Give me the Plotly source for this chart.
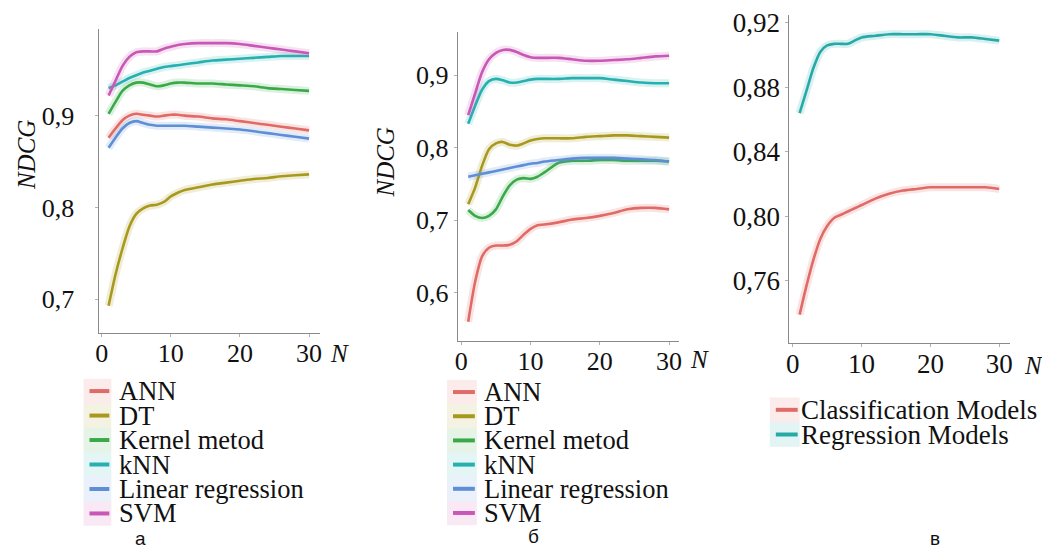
import plotly.graph_objects as go

# page offset: the browser body has an 8px margin
OFF = 8
W, H = 1050 - OFF, 549 - OFF

# ---------------- data ----------------
N_AB = [1, 2, 3, 4, 5, 6, 7, 8, 9, 10, 11, 12, 14, 16, 18, 20, 22, 24, 26, 28, 30]

names_ab = ["ANN", "DT", "Kernel metod", "kNN", "Linear regression", "SVM"]
colors_ab = ["#E06A66", "#A8991E", "#3AAA48", "#26B0B0", "#5E8FD6", "#C957B5"]

# panel а
a_ann = [0.876, 0.886, 0.895, 0.900, 0.902, 0.901, 0.900, 0.899, 0.900, 0.901, 0.901, 0.900, 0.899, 0.897, 0.896, 0.894, 0.892, 0.890, 0.888, 0.886, 0.884]
a_dt = [0.693, 0.727, 0.755, 0.779, 0.793, 0.799, 0.802, 0.803, 0.806, 0.812, 0.816, 0.819, 0.822, 0.825, 0.827, 0.829, 0.831, 0.832, 0.834, 0.835, 0.836]
a_kernel = [0.902, 0.915, 0.927, 0.933, 0.936, 0.936, 0.934, 0.932, 0.933, 0.935, 0.936, 0.936, 0.935, 0.935, 0.934, 0.933, 0.932, 0.930, 0.929, 0.928, 0.927]
a_knn = [0.930, 0.933, 0.937, 0.941, 0.944, 0.947, 0.949, 0.951, 0.953, 0.954, 0.955, 0.956, 0.958, 0.960, 0.961, 0.962, 0.963, 0.964, 0.965, 0.965, 0.965]
a_linear = [0.865, 0.876, 0.886, 0.892, 0.894, 0.892, 0.890, 0.889, 0.889, 0.889, 0.889, 0.889, 0.888, 0.887, 0.886, 0.885, 0.883, 0.881, 0.879, 0.877, 0.875]
a_svm = [0.922, 0.938, 0.954, 0.964, 0.969, 0.970, 0.970, 0.970, 0.973, 0.975, 0.977, 0.978, 0.979, 0.979, 0.979, 0.978, 0.976, 0.974, 0.972, 0.970, 0.968]

# panel б
b_ann = [0.560, 0.615, 0.650, 0.662, 0.665, 0.665, 0.666, 0.671, 0.680, 0.688, 0.693, 0.694, 0.697, 0.701, 0.703, 0.706, 0.710, 0.715, 0.717, 0.717, 0.715]
b_dt = [0.722, 0.745, 0.775, 0.798, 0.806, 0.808, 0.804, 0.803, 0.806, 0.810, 0.812, 0.813, 0.813, 0.813, 0.815, 0.816, 0.817, 0.817, 0.816, 0.815, 0.814]
b_kernel = [0.714, 0.706, 0.703, 0.706, 0.715, 0.733, 0.748, 0.756, 0.758, 0.757, 0.760, 0.766, 0.779, 0.782, 0.782, 0.783, 0.783, 0.782, 0.782, 0.782, 0.781]
b_knn = [0.833, 0.858, 0.880, 0.892, 0.895, 0.893, 0.890, 0.890, 0.892, 0.894, 0.895, 0.895, 0.895, 0.896, 0.896, 0.896, 0.894, 0.892, 0.890, 0.889, 0.889]
b_linear = [0.760, 0.762, 0.764, 0.766, 0.768, 0.770, 0.772, 0.774, 0.776, 0.778, 0.779, 0.781, 0.783, 0.785, 0.786, 0.786, 0.786, 0.785, 0.784, 0.783, 0.781]
b_svm = [0.845, 0.875, 0.904, 0.922, 0.931, 0.935, 0.935, 0.932, 0.928, 0.925, 0.924, 0.924, 0.924, 0.922, 0.920, 0.920, 0.921, 0.922, 0.924, 0.926, 0.927]

# panel в
N_C = [1, 2, 3, 4, 5, 6, 7, 8, 9, 10, 12, 14, 16, 18, 20, 22, 24, 26, 28, 30]
names_c = ["Classification Models", "Regression Models"]
colors_c = ["#E06A66", "#27AAA7"]
c_class = [0.739, 0.757, 0.773, 0.786, 0.794, 0.799, 0.801, 0.803, 0.805, 0.807, 0.811, 0.814, 0.816, 0.817, 0.818, 0.818, 0.818, 0.818, 0.818, 0.817]
c_reg = [0.864, 0.878, 0.892, 0.902, 0.906, 0.907, 0.907, 0.907, 0.909, 0.911, 0.912, 0.913, 0.913, 0.913, 0.913, 0.912, 0.911, 0.911, 0.910, 0.909]

x_ticks = [0, 10, 20, 30]
y_ticks_a = [0.7, 0.8, 0.9]
y_ticks_b = [0.6, 0.7, 0.8, 0.9]
y_ticks_c = [0.76, 0.80, 0.84, 0.88, 0.92]
captions = ["а", "б", "в"]
y_title = "NDCG"
x_title = "N"

series_a = [a_ann, a_dt, a_kernel, a_knn, a_linear, a_svm]
series_b = [b_ann, b_dt, b_kernel, b_knn, b_linear, b_svm]
series_c = [c_class, c_reg]

SERIF = "Liberation Serif"
SANS = "Liberation Sans"


def rgba(hexc, a):
    h = hexc.lstrip("#")
    r, g, b = int(h[0:2], 16), int(h[2:4], 16), int(h[4:6], 16)
    return f"rgba({r},{g},{b},{a})"


def px_x(x):
    return min(1.0, max(0.0, (x - OFF) / W))


def px_y(y):
    return min(1.0, max(0.0, 1 - (y - OFF) / H))


fig = go.Figure()


def add_series(xs, ys, color, name, xa, ya):
    # soft band
    fig.add_trace(go.Scatter(x=xs, y=ys, mode="lines", xaxis=xa, yaxis=ya,
                             line=dict(color=rgba(color, 0.18), width=8, shape="spline", smoothing=0.7),
                             showlegend=False, hoverinfo="skip"))
    fig.add_trace(go.Scatter(x=xs, y=ys, mode="lines", xaxis=xa, yaxis=ya, name=name,
                             line=dict(color=color, width=2.6, shape="spline", smoothing=0.7),
                             showlegend=False))


for ys, c, n in zip(series_a, colors_ab, names_ab):
    add_series(N_AB, ys, c, n, "x", "y")
for ys, c, n in zip(series_b, colors_ab, names_ab):
    add_series(N_AB, ys, c, n, "x2", "y2")
for ys, c, n in zip(series_c, colors_c, names_c):
    add_series(N_C, ys, c, n, "x3", "y3")

axis_common = dict(showgrid=False, zeroline=False, showline=True, linecolor="#8a8a8a", linewidth=1,
                   ticks="outside", ticklen=3, tickcolor="#b0b0b0", ticklabeloverflow="allow")

panels = [
    # (x domain px, y domain px (top,bottom), xrange, yrange, yticks, fmt, standoff, font size)
    ((96, 318), (22, 330), [-0.33, 31.57], [0.6634, 0.9946], y_ticks_a, ".1f", 16, 26),
    ((456.7, 680), (25, 338), [-0.52, 31.5], [0.5337, 0.960], y_ticks_b, ".1f", 0, 26),
    ((790.7, 1013), (8, 340), [-0.48, 31.6], [0.7216, 0.9249], y_ticks_c, ".2f", 0, 27),
]

layout_axes = {}
for i, (xd, yd, xr, yr, yt, fmt, so, fs) in enumerate(panels):
    sfx = "" if i == 0 else str(i + 1)
    tf = dict(family=SERIF, size=fs, color="#111")
    layout_axes["xaxis" + sfx] = dict(axis_common, domain=[px_x(xd[0]), px_x(xd[1])], range=xr,
                                      tickvals=x_ticks, anchor="y" + sfx, ticklabelstandoff=-6,
                                      tickfont=tf)
    layout_axes["yaxis" + sfx] = dict(axis_common, domain=[px_y(yd[1]), px_y(yd[0])], range=yr,
                                      tickvals=yt, tickformat=fmt, anchor="x" + sfx, ticklabelstandoff=so,
                                      tickfont=tf)

annotations = []
shapes = []

# axis titles
for (xc, yc) in [(22, 150), (384, 157)]:
    annotations.append(dict(x=px_x(xc), y=px_y(yc), xref="paper", yref="paper", text=f"<i>{y_title}</i>",
                            showarrow=False, textangle=-90, font=dict(family=SERIF, size=25, color="#111"),
                            xanchor="center", yanchor="middle"))
for (xc, yc) in [(338, 351), (700, 357), (1036, 363)]:
    annotations.append(dict(x=px_x(xc), y=px_y(yc), xref="paper", yref="paper", text=f"<i>{x_title}</i>",
                            showarrow=False, font=dict(family=SERIF, size=25, color="#111"),
                            xanchor="center", yanchor="middle"))


# legends
def add_legend(names, colors, sw_x0, sw_x1, text_x, y0, step, fsize):
    for k, (n, c) in enumerate(zip(names, colors)):
        yc = y0 + k * step
        shapes.append(dict(type="rect", xref="paper", yref="paper",
                           x0=px_x(sw_x0 - 6), x1=px_x(sw_x1 + 2),
                           y0=px_y(yc + step / 2), y1=px_y(yc - step / 2),
                           fillcolor=rgba(c, 0.13), line=dict(width=0), layer="below"))
        shapes.append(dict(type="line", xref="paper", yref="paper",
                           x0=px_x(sw_x0), x1=px_x(sw_x1), y0=px_y(yc), y1=px_y(yc),
                           line=dict(color=c, width=4)))
        annotations.append(dict(x=px_x(text_x), y=px_y(yc), xref="paper", yref="paper", text=n,
                                showarrow=False, xanchor="left", yanchor="middle",
                                font=dict(family=SERIF, size=fsize, color="#111")))


add_legend(names_ab, colors_ab, 86, 106, 114, 389, 24.8, 26.5)
add_legend(names_ab, colors_ab, 452, 474, 481, 390, 24.5, 26.5)
add_legend(names_c, colors_c, 777, 799, 800, 408, 25, 27)

# captions
for cap, (xc, yc) in zip(captions, [(137, 538), (533, 536), (937, 538)]):
    annotations.append(dict(x=px_x(xc), y=px_y(yc), xref="paper", yref="paper", text=cap,
                            showarrow=False, xanchor="center", yanchor="middle",
                            font=dict(family=SANS, size=19, color="#111")))

fig.update_layout(
    width=W, height=H,
    margin=dict(l=0, r=0, t=0, b=0),
    paper_bgcolor="white", plot_bgcolor="white",
    separators=", ",
    showlegend=False,
    annotations=annotations,
    shapes=shapes,
    **layout_axes,
)

fig.write_html("out.html")
